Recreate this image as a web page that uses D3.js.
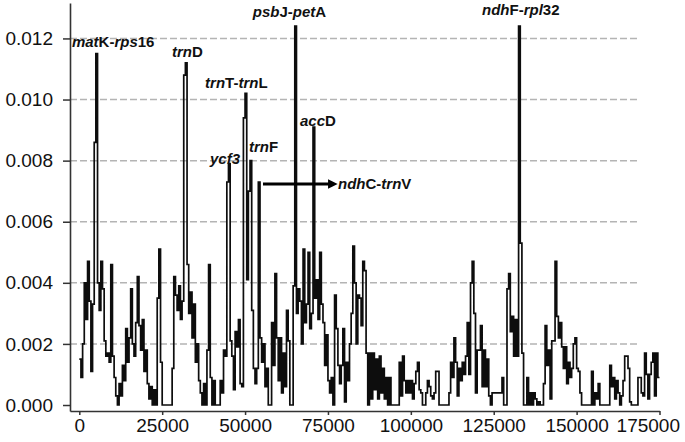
<!DOCTYPE html>
<html>
<head>
<meta charset="utf-8">
<script src="https://cdn.jsdelivr.net/npm/d3@7"></script>
<style>
  html, body { margin: 0; padding: 0; background: #fff; }
  svg { display: block; }
  text { font-family: "Liberation Sans", Arial, sans-serif; }
</style>
</head>
<body>
<svg id="chart" width="685" height="442"></svg>
<script>
// ---- data ----
const windowStep = 500; // bp between successive windows
const piValues = [
  0.0015,0.0009,0.0020,0.0040,0.0028,0.0047,0.0034,0.0011,0.0033,0.0086,
  0.0115,0.0040,0.0031,0.0047,0.0038,0.0021,0.0016,0.0017,0.0014,0.0046,
  0.0016,0.0009,0.0003,0.0000,0.0007,0.0003,0.0013,0.0008,0.0025,0.0014,
  0.0022,0.0038,0.0020,0.0016,0.0027,0.0042,0.0026,0.0018,0.0028,0.0011,
  0.0018,0.0007,0.0002,0.0006,0.0000,0.0005,0.0000,0.0035,0.0051,0.0014,
  0.0000,0.0000,0.0000,0.0000,0.0000,0.0000,0.0012,0.0042,0.0036,0.0031,
  0.0039,0.0028,0.0034,0.0108,0.0112,0.0046,0.0030,0.0037,0.0022,0.0033,
  0.0014,0.0020,0.0008,0.0004,0.0000,0.0007,0.0000,0.0018,0.0046,0.0009,
  0.0000,0.0008,0.0000,0.0000,0.0000,0.0008,0.0004,0.0018,0.0016,0.0073,
  0.0079,0.0021,0.0016,0.0005,0.0024,0.0019,0.0028,0.0007,0.0006,0.0094,
  0.0102,0.0041,0.0070,0.0080,0.0031,0.0012,0.0007,0.0012,0.0073,0.0022,
  0.0014,0.0020,0.0006,0.0012,0.0000,0.0000,0.0027,0.0013,0.0043,0.0022,
  0.0008,0.0022,0.0004,0.0017,0.0006,0.0031,0.0021,0.0000,0.0000,0.0039,
  0.0124,0.0030,0.0038,0.0034,0.0020,0.0051,0.0027,0.0033,0.0050,0.0025,
  0.0030,0.0091,0.0035,0.0041,0.0028,0.0050,0.0033,0.0027,0.0013,0.0023,
  0.0008,0.0004,0.0009,0.0000,0.0036,0.0025,0.0013,0.0007,0.0013,0.0025,
  0.0001,0.0014,0.0008,0.0020,0.0030,0.0052,0.0040,0.0020,0.0036,0.0035,
  0.0026,0.0047,0.0044,0.0017,0.0000,0.0017,0.0002,0.0017,0.0005,0.0015,
  0.0002,0.0016,0.0004,0.0012,0.0002,0.0009,0.0000,0.0009,0.0000,0.0000,
  0.0000,0.0000,0.0000,0.0014,0.0003,0.0016,0.0008,0.0004,0.0008,0.0004,
  0.0008,0.0002,0.0007,0.0011,0.0014,0.0005,0.0004,0.0000,0.0000,0.0004,
  0.0008,0.0006,0.0003,0.0002,0.0004,0.0011,0.0011,0.0000,0.0000,0.0000,
  0.0000,0.0000,0.0000,0.0004,0.0014,0.0009,0.0022,0.0014,0.0003,0.0012,
  0.0008,0.0014,0.0010,0.0016,0.0027,0.0010,0.0040,0.0047,0.0030,0.0004,
  0.0018,0.0018,0.0026,0.0006,0.0018,0.0006,0.0015,0.0003,0.0000,0.0004,
  0.0004,0.0004,0.0004,0.0004,0.0004,0.0009,0.0000,0.0000,0.0038,0.0043,
  0.0024,0.0029,0.0016,0.0028,0.0016,0.0124,0.0053,0.0017,0.0000,0.0000,
  0.0009,0.0000,0.0004,0.0000,0.0004,0.0002,0.0000,0.0001,0.0000,0.0000,
  0.0007,0.0026,0.0013,0.0018,0.0002,0.0021,0.0021,0.0047,0.0029,0.0022,
  0.0027,0.0019,0.0012,0.0019,0.0007,0.0014,0.0009,0.0012,0.0020,0.0022,
  0.0012,0.0011,0.0004,0.0000,0.0000,0.0000,0.0000,0.0000,0.0000,0.0011,
  0.0000,0.0004,0.0002,0.0007,0.0000,0.0000,0.0000,0.0000,0.0000,0.0000,
  0.0013,0.0006,0.0009,0.0002,0.0008,0.0004,0.0000,0.0003,0.0008,0.0016,
  0.0016,0.0012,0.0001,0.0000,0.0000,0.0000,0.0000,0.0009,0.0009,0.0004,
  0.0003,0.0017,0.0010,0.0002,0.0010,0.0014,0.0017,0.0003,0.0017,0.0009
];
const xTickValues = [0, 25000, 50000, 75000, 100000, 125000, 150000, 175000];
const yTickValues = [0, 0.002, 0.004, 0.006, 0.008, 0.010, 0.012];
// annotation labels: text parts [text, italic], index of the window they mark
const annotationParts = [
  [["mat", true], ["K-", false], ["rps", true], ["16", false]],
  [["trn", true], ["D", false]],
  [["trn", true], ["T-", false], ["trn", true], ["L", false]],
  [["ycf3", true]],
  [["trn", true], ["F", false]],
  [["psb", true], ["J-", false], ["pet", true], ["A", false]],
  [["acc", true], ["D", false]],
  [["ndh", true], ["F-", false], ["rpl", true], ["32", false]]
];
const annotationWindow = [10, 64, 100, 90, 103, 130, 141, 265];
const arrowLabelParts = [["ndh", true], ["C-", false], ["trn", true], ["V", false]];
const arrowWindow = 108;

// ---- layout ----
const svg = d3.select("#chart");
const x = d3.scaleLinear().domain([-2805, 175000]).range([70, 659.5]);
const y = d3.scaleLinear().domain([-0.000196, 0.01316]).range([411, 3]);

// gridlines
svg.append("g").selectAll("line")
  .data(yTickValues.filter(v => v > 0))
  .join("line")
  .attr("x1", 70).attr("x2", 639)
  .attr("y1", d => y(d)).attr("y2", d => y(d))
  .attr("stroke", "#b4b4b4").attr("stroke-width", 1.5)
  .attr("stroke-dasharray", "7,3");

// step line
const pts = piValues.map((v, i) => [i * windowStep, v]);
pts.push([piValues.length * windowStep, piValues[piValues.length - 1]]);
const line = d3.line()
  .x(d => x(d[0])).y(d => y(d[1]))
  .curve(d3.curveStepAfter);
svg.append("path")
  .datum(pts)
  .attr("d", line)
  .attr("fill", "none")
  .attr("stroke", "#0d0d0d")
  .attr("stroke-width", 1.7)
  .attr("stroke-linejoin", "miter");

// axes
const yAxis = d3.axisLeft(y).tickValues(yTickValues)
  .tickFormat(d3.format(".3f")).tickSize(7).tickPadding(10).tickSizeOuter(0);
const gy = svg.append("g").attr("transform", "translate(70,0)").call(yAxis);
const xAxis = d3.axisBottom(x).tickValues(xTickValues)
  .tickFormat(d3.format("d")).tickSize(4).tickPadding(3.5).tickSizeOuter(0);
const gx = svg.append("g").attr("transform", "translate(0,411)").call(xAxis);
[gx, gy].forEach(g => {
  g.select(".domain").attr("stroke", "#333").attr("stroke-width", 1.6);
  g.selectAll(".tick line").attr("stroke", "#333").attr("stroke-width", 1.5);
  g.selectAll(".tick text").attr("font-size", 19).attr("fill", "#111")
    .attr("font-family", "'Liberation Sans', Arial, sans-serif");
});
// keep the last x label inside the picture, as in the reference
gx.selectAll(".tick text").filter(d => d === xTickValues[xTickValues.length - 1])
  .attr("text-anchor", "end").attr("x", 20);

// annotations
const labelOffsets = [[-24, -7], [-13.5, -6], [-40, -5.5], [-18.5, 0],
                      [-1, -8.7], [-42, -9.5], [-13, -1.5], [-36.6, -11]];
function addLabel(parts, lx, ly) {
  const t = svg.append("text").attr("x", lx).attr("y", ly)
    .attr("font-size", 15).attr("font-weight", "bold").attr("fill", "#111");
  parts.forEach(p => t.append("tspan").text(p[0])
    .attr("font-style", p[1] ? "italic" : "normal"));
}
annotationParts.forEach((parts, k) => {
  const w = annotationWindow[k];
  addLabel(parts, x(w * windowStep) + labelOffsets[k][0],
           y(piValues[w]) + labelOffsets[k][1]);
});

// arrow to ndhC-trnV
const ax0 = x((arrowWindow + 1) * windowStep) + 3;
const ay = y(piValues[arrowWindow]) + 2;
const ax1 = ax0 + 73;
svg.append("defs").append("marker")
  .attr("id", "ah").attr("viewBox", "0 0 10 10").attr("refX", 2).attr("refY", 5)
  .attr("markerWidth", 3).attr("markerHeight", 3).attr("orient", "auto")
  .append("path").attr("d", "M0,0L10,5L0,10z").attr("fill", "#000");
svg.append("line").attr("x1", ax0).attr("x2", ax1 - 6).attr("y1", ay).attr("y2", ay)
  .attr("stroke", "#000").attr("stroke-width", 3.2).attr("marker-end", "url(#ah)");
addLabel(arrowLabelParts, ax1 + 2, ay + 5);
</script>
</body>
</html>
